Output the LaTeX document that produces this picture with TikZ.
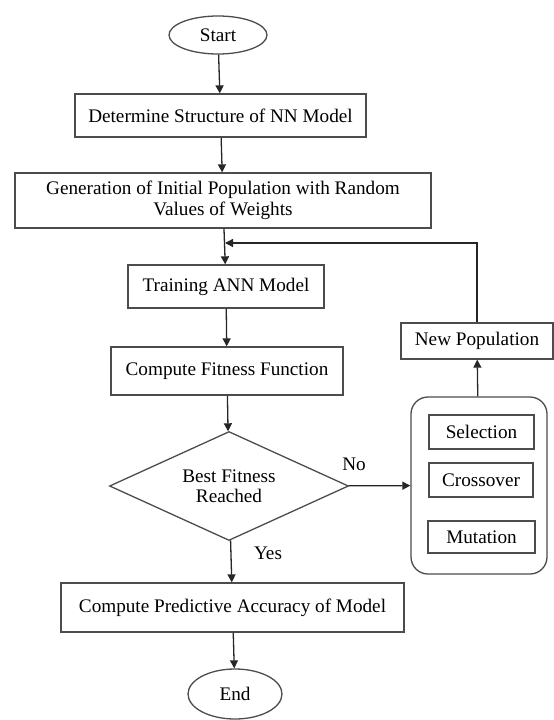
\documentclass[tikz,border=0pt]{standalone}
\usepackage{fontspec}
\setmainfont{Liberation Serif}
\usetikzlibrary{shapes.geometric, arrows.meta}

\begin{document}
\begin{tikzpicture}[x=1pt, y=-1pt, line width=1.3pt,
	every node/.style={font=\fontsize{19.2}{20.5}\selectfont, inner sep=0pt},
	box/.style={rectangle, draw=black!70, align=center},
	term/.style={ellipse, draw=black!70},
	arr/.style={draw=black!85, -{Triangle[length=8pt, width=8pt]}}]
	\useasboundingbox (0, 0) rectangle (554, 720);

	% main column
	\node[term, minimum width=98pt, minimum height=38pt] (start) at (218, 35) {Start};
	\node[box, minimum width=291pt, minimum height=43pt] (determine) at (220.5, 115.5) {Determine Structure of NN Model};
	\node[box, minimum width=416pt, minimum height=55pt] (generation) at (223, 200.5) {Generation of Initial Population with Random\\Values of Weights};
	\node[box, minimum width=196pt, minimum height=43pt] (training) at (226, 286.5) {Training ANN Model};
	\node[box, minimum width=232pt, minimum height=48pt] (fitness) at (227, 371) {Compute Fitness Function};
	\node[diamond, draw=black!70, align=center, shape aspect=2.2, minimum width=239pt, minimum height=109pt] (best) at (229, 486) {Best Fitness\\Reached};
	\node[box, minimum width=343pt, minimum height=49pt] (predictive) at (232.5, 607.5) {Compute Predictive Accuracy of Model};
	\node[term, minimum width=94pt, minimum height=50pt] (end) at (235, 694) {End};

	% genetic operators
	\node[box, rounded corners=17pt, minimum width=136pt, minimum height=177pt] (ops) at (479, 485.5) {};
	\node[box, minimum width=105pt, minimum height=34pt] (selection) at (481.5, 432) {Selection};
	\node[box, minimum width=104pt, minimum height=34pt] (crossover) at (481, 480) {Crossover};
	\node[box, minimum width=107pt, minimum height=32pt] (mutation) at (481.5, 537) {Mutation};
	\node[box, minimum width=152pt, minimum height=36pt] (newpop) at (477, 341) {New Population};

	% labels
	\node (no) at (354, 464) {No};
	\node (yes) at (268, 553) {Yes};

	% Draw the arrows between nodes
	\draw[arr] (start) -- (determine);
	\draw[arr] (determine) -- (generation);
	\draw[arr] (generation) -- (training);
	\draw[arr] (training) -- (fitness);
	\draw[arr] (fitness) -- (best);
	\draw[arr] (best) -- (predictive);
	\draw[arr] (predictive) -- (end);
	\draw[arr] (best) -- (ops);
	\draw[arr] (ops) -- (newpop);
	\coordinate (join) at (225, 243);
	\draw[arr] (newpop.north) |- (join);
\end{tikzpicture}
\end{document}
